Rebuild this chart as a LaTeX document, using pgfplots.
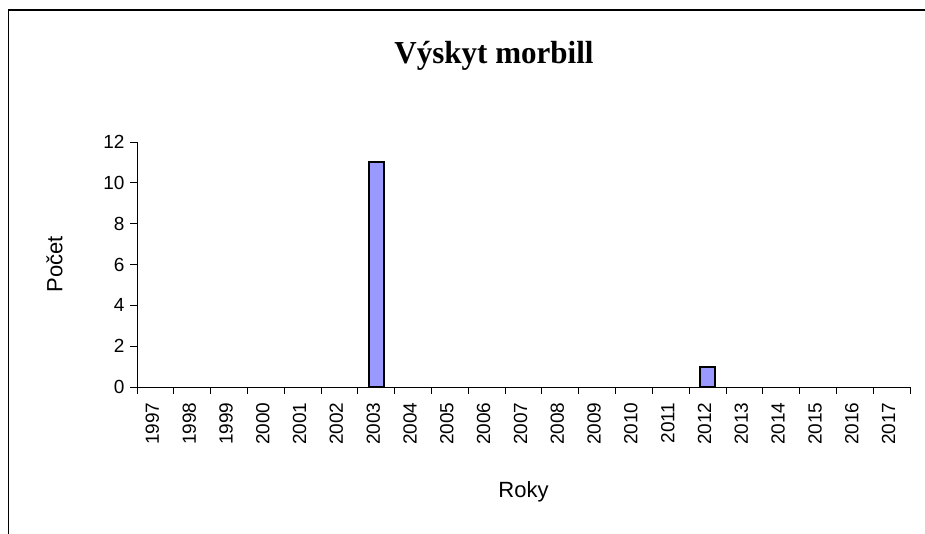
\documentclass[border=0pt]{standalone}
\usepackage{pgfplots}
\pgfplotsset{compat=1.18}
\usepackage{fontspec}
\setmainfont{Liberation Sans}
\newfontfamily\titlefont{Liberation Serif}
\definecolor{barfill}{HTML}{9999FF}
\begin{document}
\begin{tikzpicture}[x=1pt,y=1pt]
\useasboundingbox (0,0) rectangle (925,534);
\draw[line width=1.2pt] (8.5,0) -- (8.5,524) -- (925,524);
\node[font=\titlefont\bfseries\fontsize{32}{34}\selectfont, xscale=0.97] at (494,478) {Výskyt morbill};
\begin{axis}[
  at={(137pt,147pt)}, anchor=south west,
  scale only axis, width=773pt, height=245pt,
  xmin=-0.5, xmax=20.5, ymin=0, ymax=12,
  axis x line*=bottom, axis y line*=left,
  axis line style={line width=0.9pt,-},
  /pgf/number format/assume math mode=true,
  xtick={0,...,20},
  xticklabels={1997,1998,1999,2000,2001,2002,2003,2004,2005,2006,2007,2008,2009,2010,2011,2012,2013,2014,2015,2016,2017},
  minor xtick={-0.5,0.5,...,20.5},
  major x tick style={draw=none},
  minor tick length=7pt, major tick length=7pt,
  tick align=outside,
  tick style={line width=0.9pt,black},
  ytick={0,2,...,12},
  x tick label style={rotate=90, anchor=east, font=\fontsize{19}{19}\selectfont, xshift=-5pt, yshift=3pt},
  y tick label style={font=\fontsize{19}{19}\selectfont, xshift=-2pt},
  xlabel={Roky}, ylabel={Počet},
  label style={font=\fontsize{22}{22}\selectfont},
  xlabel style={yshift=-30pt},
  ylabel style={yshift=34pt},
  ybar, bar width=15pt,
]
\addplot[fill=barfill, draw=black, line width=2pt] coordinates {
(6,11) (15,1)};
\end{axis}
\end{tikzpicture}
\end{document}
